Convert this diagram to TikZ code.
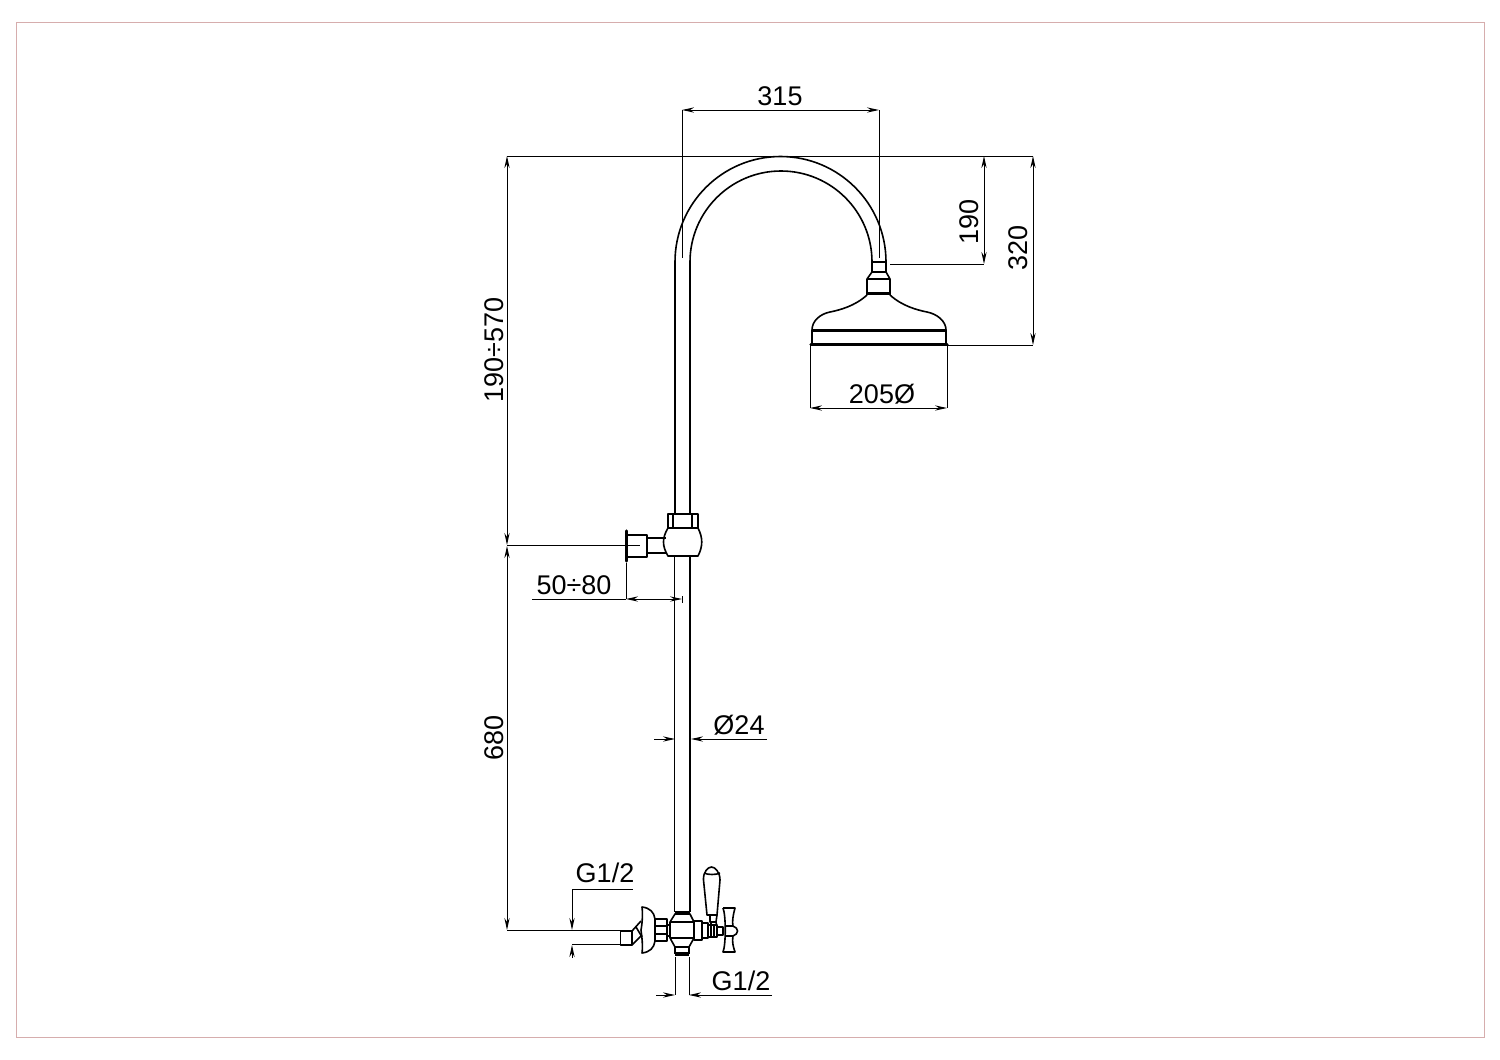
\documentclass[tikz,border=0pt]{standalone}
\usepackage{fontspec}
\setmainfont{Liberation Sans}
\usetikzlibrary{arrows.meta}
\tikzset{
  part/.style={draw=black,line width=0.8pt,line join=round},
  thick part/.style={draw=black,line width=1.6pt},
  dim/.style={draw=black,line width=0.5pt},
  dimarrow/.style={dim,-{Stealth[length=6pt,width=2.6pt]}},
  dimboth/.style={dim,{Stealth[length=6pt,width=2.6pt]}-{Stealth[length=6pt,width=2.6pt]}},
  lab/.style={font=\fontsize{13.5pt}{14pt}\selectfont,inner sep=0pt,text=black}
}
\begin{document}
\begin{tikzpicture}[x=0.5pt,y=-0.5pt]
\useasboundingbox (0,0) rectangle (1500,1060);
\draw[draw=white,fill=white] (0,0) rectangle (1500,1060);
\draw[draw=black!20!pink!80!white,line width=0.5pt] (16,22) rectangle (1484,1037);

% riser and swan neck
\draw[part] (675,514) -- (675,262) arc[start angle=180,end angle=360,radius=105.5];
\draw[part] (690,514) -- (690,262) arc[start angle=180,end angle=360,radius=91];
\draw[part] (674.5,556) -- (674.5,912);
\draw[part] (690,556) -- (690,912);
\draw[thick part] (675,912.5) -- (690,912.5);

% shower head
\draw[part] (872,262) rectangle (886,272);
\draw[part] (872,272) -- (867,279) -- (867,295) (886,272) -- (890,279) -- (890,295);
\draw[part] (867,279) -- (890,279);
\draw[thick part] (867,293.5) -- (890,293.5);
\draw[part] (867,295) .. controls (855,306) and (840,310) .. (830,312)
  .. controls (820,314) and (812,321) .. (812,330);
\draw[part] (890,295) .. controls (902,306) and (917,310) .. (927,312)
  .. controls (937,314) and (946,321) .. (946,330);
\draw[thick part] (812,330.5) -- (946,330.5);
\draw[part] (812,330) -- (812,344) (946,330) -- (946,344);
\draw[thick part,line cap=round] (811,344.5) -- (947,344.5);

% wall bracket
\draw[thick part,line cap=round] (626.5,531) -- (626.5,561);
\draw[part] (628,535) -- (647,535) -- (647,557) -- (628,557);
\draw[part] (647,538) -- (666,538) (647,553) -- (666,553);
\draw[part] (668,514) rectangle (698,528);
\draw[part] (673,514) -- (673,528) (692,514) -- (692,528);
\draw[part] (668,528) .. controls (662,538) and (662,546) .. (668,556) -- (698,556)
  .. controls (703,546) and (703,538) .. (698,528);

% bottom valve: body
\draw[part] (670,922) -- (675,914) -- (690,914) -- (694,922) -- (694,938) -- (689,947) -- (675,947) -- (670,938) -- cycle;
\draw[part] (670,922) -- (694,922) (670,938) -- (694,938);
\draw[part] (675,947) -- (675,954) (689,947) -- (689,954);
\draw[thick part] (675,954) -- (689,954);

% bottom valve: left inlet
\draw[part] (655,919) rectangle (667,941);
\draw[part] (655,926) -- (667,926) (655,934) -- (667,934);
\draw[part] (667,925) -- (670,925) (667,936) -- (670,936);
\draw[part] (655,919) .. controls (654,912) and (650,908) .. (642,907)
  .. controls (643,915) and (642,925) .. (641,930)
  .. controls (642,938) and (643,945) .. (642,953)
  .. controls (650,952) and (654,948) .. (655,941);
\draw[part] (632,931) -- (641,921) (632,945) -- (642,935) (636,927) -- (642,937);
\draw[part] (620.5,931) rectangle (632,945);
\draw[part] (572,944.5) -- (620.5,944.5);
\draw[dim] (611,930.5) -- (620.5,930.5);

% bottom valve: right side
\draw[part] (694,921) rectangle (702,940);
\draw[part] (702,923) rectangle (708,938);
\draw[part] (708,925) rectangle (717,937);
\draw[part] (711,923) -- (711,938) (714,925) -- (714,936);
\draw[part] (717,927) rectangle (723,935);
% lever
\draw[part] (707,915) -- (703.5,880) .. controls (703,872) and (708,867) .. (711.5,867)
  .. controls (715,867) and (720,872) .. (720,880) -- (717,915) -- cycle;
\draw[part] (704,873) .. controls (708,875) and (716,875) .. (720,873);
\draw[part] (710,915) -- (710,922) -- (716,922) -- (717,915);
\draw[part] (716,922) -- (717,927);
% cross handle
\draw[part] (723,908) -- (735,908) .. controls (733,915) and (732,922) .. (733,926)
  .. controls (739,928) and (739,934) .. (733,936)
  .. controls (732,942) and (733,946) .. (735,952) -- (723,952)
  .. controls (726,945) and (726,915) .. (723,908);
\draw[part] (725,926) -- (733,926) (725,936) -- (733,936);

% dimensions
\draw[dim] (507,156) -- (1033,156);
\draw[dimboth] (682,110) -- (879,110);
\draw[dim] (682,110) -- (682,258) (879,110) -- (879,258);
\draw[dim] (890,264) -- (984,264);
\draw[dimboth] (984,156) -- (984,264);
\draw[dim] (947,345) -- (1033,345);
\draw[dimboth] (1033,156) -- (1033,345);
\draw[dim] (810,345) -- (810,408) (947,345) -- (947,408);
\draw[dimboth] (810,408) -- (947,408);
\draw[dim] (507,545.5) -- (640,545.5);
\draw[dimboth] (507,156) -- (507,545);
\draw[dimboth] (507,546) -- (507,930);
\draw[dim] (507,930) -- (611,930);
\draw[dim] (626,563) -- (626,599);
\draw[dim] (532,599) -- (626,599);
\draw[dimboth] (626,599) -- (682,599);
\draw[dim] (682,596) -- (682,603);
\draw[dimarrow] (654,739) -- (675,739);
\draw[dimarrow] (767,739) -- (691,739);
\draw[dim] (572,889) -- (633,889);
\draw[dimarrow] (572,889) -- (572,930);
\draw[dimarrow] (572,958) -- (572,945);
\draw[dim] (675,957) -- (675,995) (689,957) -- (689,995);
\draw[dimarrow] (656,995) -- (675,995);
\draw[dimarrow] (772,995) -- (689,995);

% labels
\node[lab] (d315) at (780,96) {315};
\node[lab] (d205) at (882,394) {205Ø};
\node[lab,rotate=90] (d190) at (969,222) {190};
\node[lab,rotate=90] (d320) at (1018,248) {320};
\node[lab,rotate=90] (d190570) at (494,350) {190÷570};
\node[lab,rotate=90] (d680) at (494,738) {680};
\node[lab] (d5080) at (574,585) {50÷80};
\node[lab] (d24) at (739,725) {Ø24};
\node[lab] (g1) at (605,873) {G1/2};
\node[lab] (g2) at (741,981) {G1/2};
\end{tikzpicture}
\end{document}
